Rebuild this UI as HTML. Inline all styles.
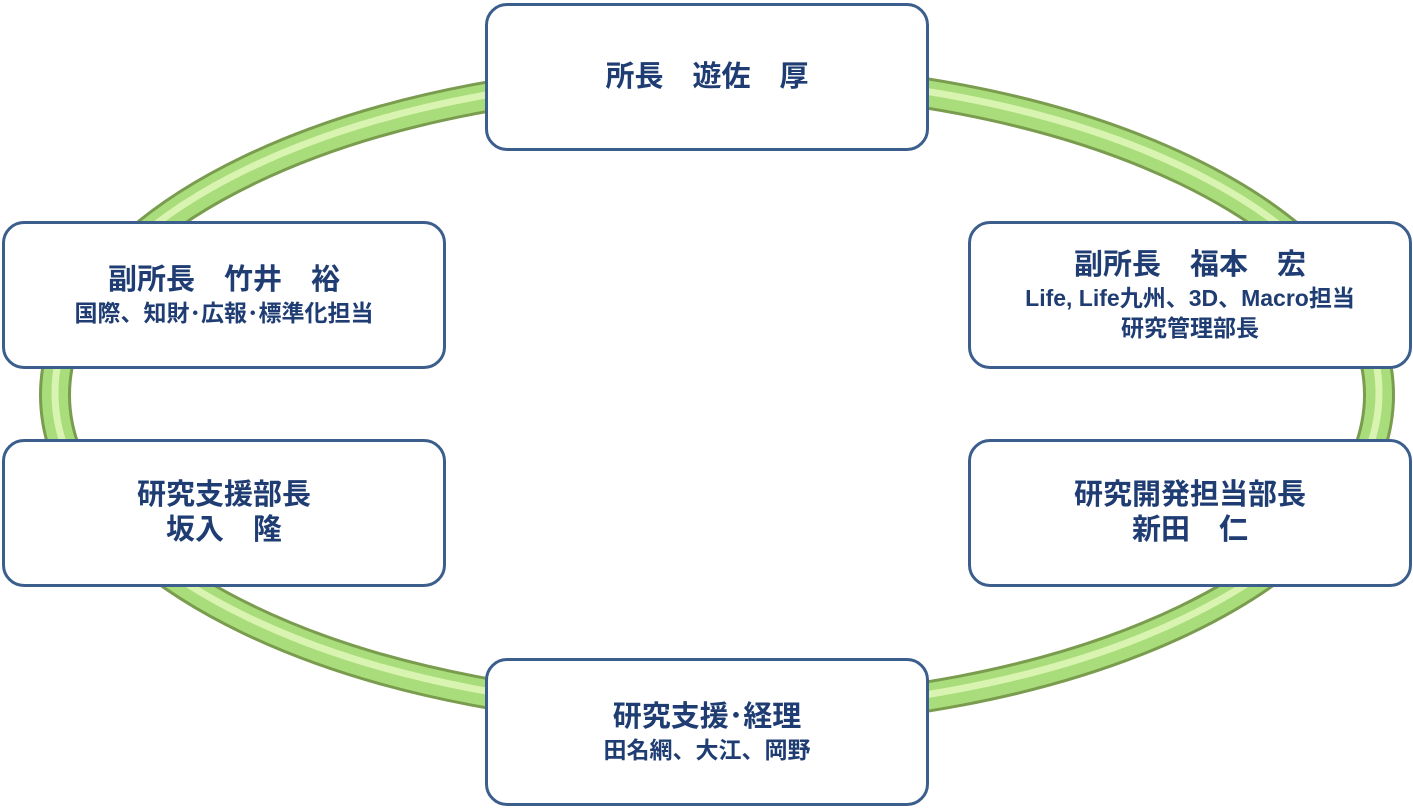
<!DOCTYPE html>
<html><head><meta charset="utf-8"><style>
body{margin:0;width:1413px;height:808px;background:#fff;position:relative;overflow:hidden;font-family:"Liberation Sans","Noto Sans CJK JP",sans-serif;}
.b{position:absolute;box-sizing:border-box;width:444px;height:148px;border:3.5px solid #3b5e8c;border-radius:22px;background:#fff;display:flex;flex-direction:column;align-items:center;justify-content:center;color:#1f3d73;font-weight:bold;text-align:center;}
.m{font-size:29px;line-height:35px;}
.s{font-size:23px;line-height:30px;}
</style></head><body>
<svg width="1413" height="808" style="position:absolute;left:0;top:0">
<ellipse cx="717" cy="395" rx="662" ry="318" fill="none" stroke="#7a9c4e" stroke-width="32"/>
<ellipse cx="717" cy="395" rx="662" ry="318" fill="none" stroke="#a9dc7a" stroke-width="26"/>
<ellipse cx="717" cy="393" rx="662" ry="318" fill="none" stroke="#d8f4b0" stroke-width="7"/>
</svg>
<div class="b" style="left:485px;top:3px"><div class="m">所長　遊佐　厚</div></div>
<div class="b" style="left:2px;top:221px"><div class="m">副所長　竹井　裕</div><div class="s">国際、知財･広報･標準化担当</div></div>
<div class="b" style="left:968px;top:221px"><div class="m">副所長　福本　宏</div><div class="s">Life, Life九州、3D、Macro担当</div><div class="s">研究管理部長</div></div>
<div class="b" style="left:2px;top:439px"><div class="m">研究支援部長</div><div class="m">坂入　隆</div></div>
<div class="b" style="left:968px;top:439px"><div class="m">研究開発担当部長</div><div class="m">新田　仁</div></div>
<div class="b" style="left:485px;top:658px"><div class="m">研究支援･経理</div><div class="s">田名網、大江、岡野</div></div>
</body></html>
